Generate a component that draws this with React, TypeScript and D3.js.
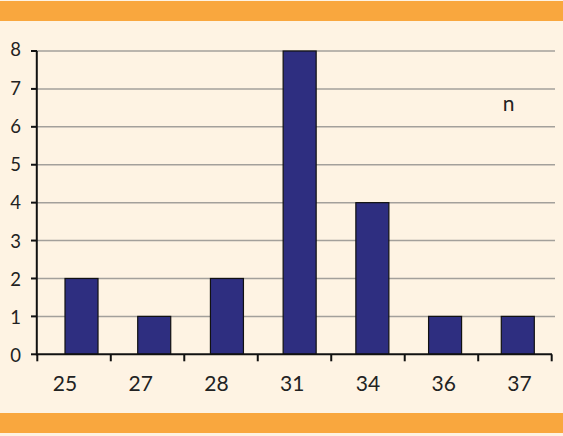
import React from 'react';
import * as d3 from 'd3';

const categories = ['25', '27', '28', '31', '34', '36', '37'];
const counts = [2, 1, 2, 8, 4, 1, 1];
const yTicks = [0, 1, 2, 3, 4, 5, 6, 7, 8];
const legendLabel = 'n';

const W = 563;
const H = 436;
const FONT = 'Lato, "Open Sans", sans-serif';

export default function App() {
  // the picture's bars and labels are not quite centred on the category ticks
  const tickX = d3.scaleLinear().domain([0, categories.length]).range([37.3, 551.7]);
  const x = d3.scaleBand().domain(categories).range([65, 534.3]).paddingInner(0.546).paddingOuter(0);
  const labelX = d3.scalePoint().domain(categories).range([65, 519.5]);
  const y = d3.scaleLinear().domain([0, 8]).range([354.3, 51]);

  return (
    <svg width={W} height={H} style={{ position: 'absolute', left: 0, top: 0 }}>
      <rect x={0} y={0} width={W} height={H} fill="#fef3e3" />
      <rect x={0} y={1} width={W} height={20} fill="#f9a73e" />
      <rect x={0} y={413} width={W} height={20} fill="#f9a73e" />

      {yTicks.filter(t => t > 0).map(t => (
        <line key={'g' + t} x1={37} x2={555} y1={y(t)} y2={y(t)} stroke="#a3a09b" strokeWidth={1.5} />
      ))}

      {counts.map((v, i) => (
        <rect
          key={categories[i]}
          x={x(categories[i])}
          y={y(v)}
          width={x.bandwidth()}
          height={y(0) - y(v)}
          fill="#2e2e80"
          stroke="#111"
          strokeWidth={1.2}
        />
      ))}

      <line x1={36.8} x2={36.8} y1={y(8)} y2={y(0) + 1} stroke="#111" strokeWidth={2} />
      {yTicks.map(t => (
        <g key={'y' + t}>
          <line x1={31} x2={37} y1={y(t)} y2={y(t)} stroke="#111" strokeWidth={2} />
          <text x={21} y={y(t) + (4 - t) * 0.3} dy="0.36em" textAnchor="end" fontSize={18.5} fill="#222" fontFamily={FONT}>
            {t}
          </text>
        </g>
      ))}

      <line x1={36} x2={552} y1={y(0)} y2={y(0)} stroke="#111" strokeWidth={2} />
      {d3.range(categories.length + 1).map(i => (
        <line key={'xt' + i} x1={tickX(i)} x2={tickX(i)} y1={y(0)} y2={y(0) + 7} stroke="#111" strokeWidth={2} />
      ))}
      {categories.map(c => (
        <text key={'xl' + c} x={labelX(c)} y={383} dy="0.36em" textAnchor="middle" fontSize={21} fill="#222" fontFamily={FONT}>
          {c}
        </text>
      ))}

      <text x={508.5} y={103} dy="0.36em" textAnchor="middle" fontSize={21} fill="#222" fontFamily={FONT}>
        {legendLabel}
      </text>
    </svg>
  );
}
